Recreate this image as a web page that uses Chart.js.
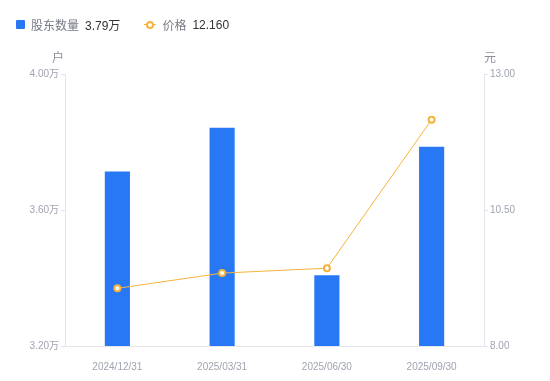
<!DOCTYPE html>
<html>
<head>
<meta charset="utf-8">
<script src="https://cdn.jsdelivr.net/npm/chart.js@4.4.0/dist/chart.umd.min.js"></script>
<style>
  html, body { margin: 0; padding: 0; background: #fff; }
  #wrap { position: relative; width: 550px; height: 381px; }
  #legend { position: absolute; left: 16px; top: 16px; font: 12px 'Liberation Sans', 'Noto Sans CJK SC', sans-serif; display: flex; align-items: center; }
  .item { display: flex; align-items: center; margin-right: 24px; }
  .name { color: #777a85; margin-right: 6px; }
  .val { color: #333; }
  .sq { width: 9px; height: 9px; background: #2878f5; border-radius: 1px; margin-right: 6px; }
  .ln { position: relative; width: 12px; height: 9px; margin-right: 6px; }
  .ln:before { content: ''; position: absolute; left: 0; right: 0; top: 4px; height: 1px; background: #f7b23b; }
  .ln:after { content: ''; position: absolute; left: 2px; top: 1px; width: 4px; height: 4px; border: 2px solid #f7b23b; border-radius: 50%; background: #fff; }
</style>
</head>
<body>
<div id="wrap">
  <canvas id="c" width="550" height="381"></canvas>
  <div id="legend"></div>
</div>
<script>
// datos del gráfico
var fechas = ['2024/12/31', '2025/03/31', '2025/06/30', '2025/09/30'];
var accionistas = [3.713, 3.842, 3.408, 3.786]; // 万户
var precios = [9.06, 9.34, 9.43, 12.16]; // 元
var ticksIzq = [3.20, 3.60, 4.00];
var ticksDer = [8.00, 10.50, 13.00];

var azul = '#2878f5';
var naranja = '#f7b23b';
var gris = '#a0a3b0';
var fuente = "'Liberation Sans', 'Noto Sans CJK SC', sans-serif";

// leyenda en html
document.getElementById('legend').innerHTML =
    '<div class="item"><span class="sq"></span><span class="name">股东数量</span><span class="val">' +
    accionistas[accionistas.length - 1].toFixed(2) + '万</span></div>' +
    '<div class="item"><span class="ln"></span><span class="name">价格</span><span class="val">' +
    precios[precios.length - 1].toFixed(3) + '</span></div>';

// titulos de los ejes (户 / 元)
var titulosEjes = {
    id: 'titulosEjes',
    afterDraw: function (chart) {
        var ctx = chart.ctx;
        var a = chart.chartArea;
        ctx.save();
        ctx.font = '12px ' + fuente;
        ctx.fillStyle = '#8a8d99';
        ctx.textAlign = 'center';
        ctx.textBaseline = 'middle';
        ctx.fillText('户', a.left - 7, a.top - 15);
        ctx.fillText('元', a.right + 6, a.top - 15);
        ctx.restore();
    }
};

new Chart(document.getElementById('c'), {
    data: {
        labels: fechas,
        datasets: [{
            type: 'line',
            label: '价格',
            data: precios,
            yAxisID: 'y1',
            borderColor: naranja,
            borderWidth: 1,
            pointRadius: 3,
            pointBorderWidth: 2,
            pointBackgroundColor: '#fff',
            pointBorderColor: naranja,
            tension: 0,
            order: 0
        }, {
            type: 'bar',
            label: '股东数量',
            data: accionistas,
            yAxisID: 'y',
            backgroundColor: azul,
            barPercentage: 0.24,
            categoryPercentage: 1,
            order: 1
        }]
    },
    options: {
        responsive: false,
        animation: false,
        layout: { padding: { top: 74, left: 0, right: 0, bottom: 0 } },
        plugins: {
            legend: { display: false },
            tooltip: { enabled: false }
        },
        scales: {
            x: {
                grid: { display: false },
                border: { display: true, color: '#e4e5ea' },
                ticks: { color: gris, font: { size: 10, family: fuente }, padding: 7, maxRotation: 0 },
                afterFit: function (s) { s.height = 35; }
            },
            y: {
                position: 'left',
                min: ticksIzq[0],
                max: ticksIzq[ticksIzq.length - 1],
                afterBuildTicks: function (s) { s.ticks = ticksIzq.map(function (v) { return { value: v }; }); },
                grid: { drawOnChartArea: false, color: '#e4e5ea', tickLength: 4 },
                border: { color: '#e4e5ea' },
                ticks: {
                    color: gris, font: { size: 10, family: fuente }, padding: 2,
                    callback: function (v) { return v.toFixed(2) + '万'; }
                },
                afterFit: function (s) { s.width = 65; }
            },
            y1: {
                position: 'right',
                min: ticksDer[0],
                max: ticksDer[ticksDer.length - 1],
                afterBuildTicks: function (s) { s.ticks = ticksDer.map(function (v) { return { value: v }; }); },
                grid: { drawOnChartArea: false, color: '#e4e5ea', tickLength: 4 },
                border: { color: '#e4e5ea' },
                ticks: {
                    color: gris, font: { size: 10, family: fuente }, padding: 2,
                    callback: function (v) { return v.toFixed(2); }
                },
                afterFit: function (s) { s.width = 66; }
            }
        }
    },
    plugins: [titulosEjes]
});
</script>
</body>
</html>
